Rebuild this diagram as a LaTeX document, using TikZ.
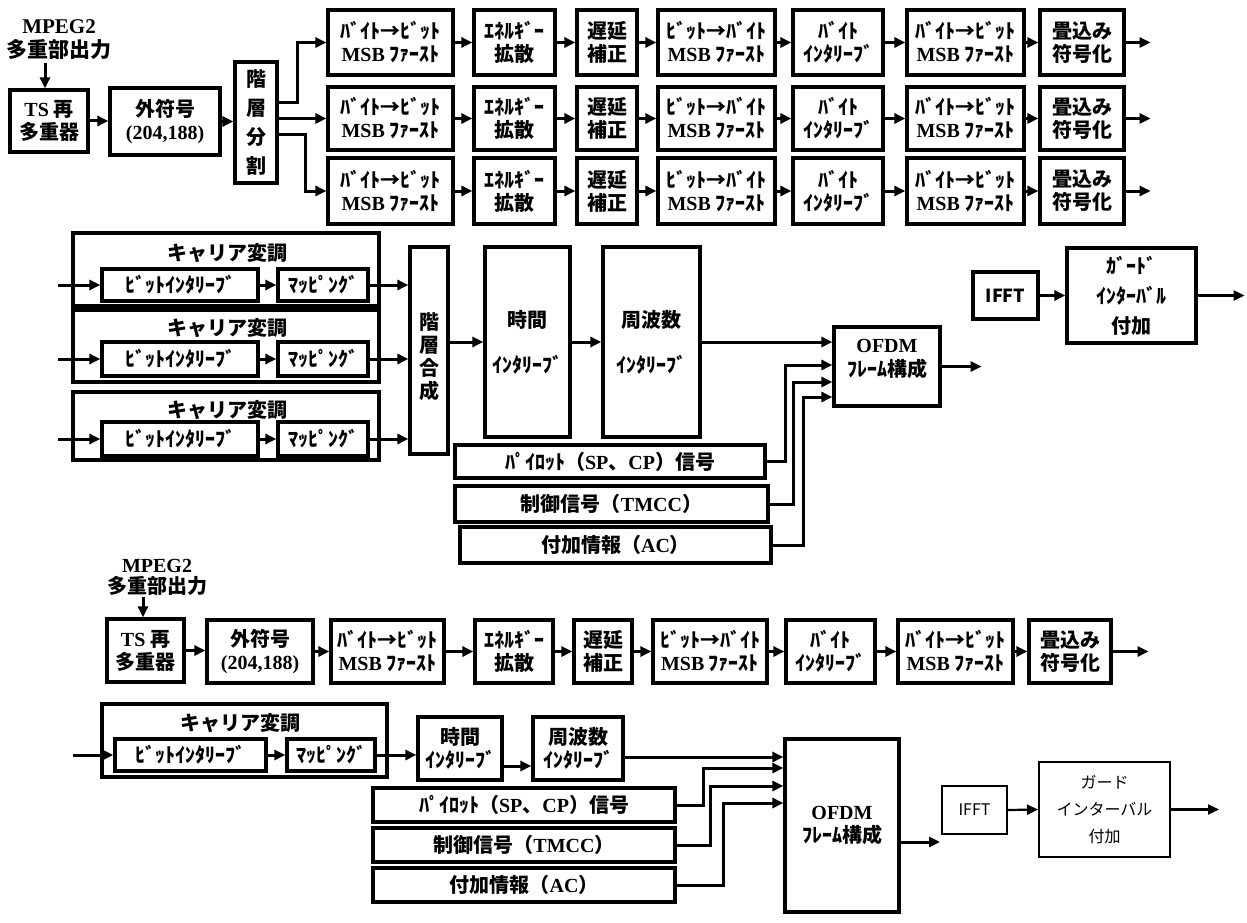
\documentclass[tikz,border=0pt]{standalone}
\usepackage{fontspec}
\usetikzlibrary{arrows.meta}
\newfontfamily\jp{Noto Sans CJK JP}
\newfontfamily\lat{Liberation Serif}
\tikzset{
  box/.style={draw, line width=3.2pt, inner sep=0pt, align=center, font=\jp\bfseries\fontsize{20}{23}\selectfont},
  thinbox/.style={draw, line width=2pt, inner sep=0pt, align=center, font=\jp\fontsize{16}{27}\selectfont},
  txt/.style={inner sep=0pt, align=center, font=\jp\bfseries\fontsize{20}{24}\selectfont},
  arr/.style={line width=3pt, -{Triangle[length=11pt,width=10pt]}},
}
\newcommand\bx[7][]{\node[box,minimum width={#5-#3},minimum height={#6-#4},#1] (#2) at ({(#3+#5)/2},{(#4+#6)/2}) {#7};}
\begin{document}
\begin{tikzpicture}[x=1pt,y=-1pt]
\useasboundingbox (0,0) rectangle (1247,923);
% ================= top section =================
\node[txt,font=\jp\bfseries\fontsize{21}{24}\selectfont] (mpeg) at (59,40) {{\lat MPEG2}\\多重部出力};
\coordinate (ma) at (45,63);
\bx{ts}{10}{90}{88}{152}{{\lat TS} 再\\多重器}
\draw[arr] (ma) -- (ma |- ts.north);
\bx{fec}{110}{88}{220}{155}{外符号\\{\lat (204,188)}}
\bx[font=\jp\bfseries\fontsize{20}{29}\selectfont]{div}{235}{62}{277}{183}{階\\層\\分\\割}
\draw[arr] (ts.east) -- (ts.east -| fec.west);
\draw[arr] (fec.east) -- (fec.east -| div.west);
\foreach \r/\ya/\yb in {1/10/75,2/87/150,3/158/224}{
  \bx{a\r}{328}{\ya}{453}{\yb}{ﾊﾞｲﾄ→ﾋﾞｯﾄ\\{\lat MSB} ﾌｧｰｽﾄ}
  \bx{b\r}{474}{\ya}{555}{\yb}{ｴﾈﾙｷﾞｰ\\拡散}
  \bx{c\r}{577}{\ya}{637}{\yb}{遅延\\補正}
  \bx{d\r}{658}{\ya}{775}{\yb}{ﾋﾞｯﾄ→ﾊﾞｲﾄ\\{\lat MSB} ﾌｧｰｽﾄ}
  \bx{e\r}{793}{\ya}{883}{\yb}{ﾊﾞｲﾄ\\ｲﾝﾀﾘｰﾌﾞ}
  \bx{f\r}{907}{\ya}{1024}{\yb}{ﾊﾞｲﾄ→ﾋﾞｯﾄ\\{\lat MSB} ﾌｧｰｽﾄ}
  \bx{g\r}{1040}{\ya}{1124}{\yb}{畳込み\\符号化}
  \coordinate (o\r) at ([xshift=25pt]g\r.east);
  \draw[arr] (a\r.east) -- (b\r.west);
  \draw[arr] (b\r.east) -- (c\r.west);
  \draw[arr] (c\r.east) -- (d\r.west);
  \draw[arr] (d\r.east) -- (e\r.west);
  \draw[arr] (e\r.east) -- (f\r.west);
  \draw[arr] (f\r.east) -- (g\r.west);
  \draw[arr] (g\r.east) -- (o\r);
}
\draw[arr] (div.east |- 0,103) -- (297,103) |- (a1.west);
\draw[arr] (div.east |- a2.west) -- (a2.west);
\draw[arr] (div.east |- 0,135) -- (305,135) |- (a3.west);
% ================= middle section =================
\foreach \r/\ya/\yb/\ty/\ia/\ib in {1/233/306/253/269/301, 2/310/382/328/342/376, 3/392/460/410/422/456}{
  \node[draw,line width=3.2pt,inner sep=0pt,minimum width=306,minimum height={\yb-\ya}] (cm\r) at (226,{(\ya+\yb)/2}) {};
  \node[txt] (cmt\r) at (227,\ty) {キャリア変調};
  \bx{bit\r}{102}{\ia}{258}{\ib}{ﾋﾞｯﾄｲﾝﾀﾘｰﾌﾞ}
  \bx{map\r}{278}{\ia}{368}{\ib}{ﾏｯﾋﾟﾝｸﾞ}
  \coordinate (in\r) at ([xshift=-42pt]bit\r.west);
  \draw[arr] (in\r) -- (bit\r.west);
  \draw[arr] (bit\r.east) -- (map\r.west);
}
\bx[font=\jp\bfseries\fontsize{20}{23}\selectfont]{comb}{410}{247}{448}{454}{\\[6pt]階\\層\\合\\成}
\foreach \r in {1,2,3}{\draw[arr] (map\r.east) -- (map\r.east -| comb.west);}
\bx{time}{485}{247}{570}{437}{時間\\[22pt]ｲﾝﾀﾘｰﾌﾞ}
\bx{fre}{603}{247}{700}{437}{周波数\\[22pt]ｲﾝﾀﾘｰﾌﾞ}
\bx{ofdm}{834}{327}{940}{406}{}
\node[txt] (ofdmt) at ([yshift=8pt]ofdm.center) {{\lat OFDM}\\ﾌﾚｰﾑ構成};
\bx{pil}{455}{445}{765}{478}{ﾊﾟｲﾛｯﾄ（{\lat SP}、{\lat CP}）信号}
\bx{tmcc}{455}{486}{768}{522}{制御信号（{\lat TMCC}）}
\bx{ac}{460}{527}{771}{563}{付加情報（{\lat AC}）}
\bx[font=\jp\bfseries\fontsize{18}{22}\selectfont]{ifft}{973}{272}{1038}{319}{IFFT}
\bx[font=\jp\bfseries\fontsize{20}{30}\selectfont]{guard}{1067}{248}{1196}{343}{ｶﾞｰﾄﾞ\\ｲﾝﾀｰﾊﾞﾙ\\付加}
\draw[arr] (comb.east |- time.west) -- (time.west);
\draw[arr] (time.east) -- (fre.west);
\draw[arr] (fre.east) -- (fre.east -| ofdm.west);
\draw[arr] (pil.east) -- (785,461.5) |- (ofdm.west |- 0,365);
\draw[arr] (tmcc.east) -- (793,504) |- (ofdm.west |- 0,382);
\draw[arr] (ac.east) -- (803,545) |- (ofdm.west |- 0,397);
\coordinate (oo) at ([xshift=40pt]ofdm.east);
\draw[arr] (ofdm.east) -- (oo);
\draw[arr] (ifft.east) -- (ifft.east -| guard.west);
\coordinate (og) at ([xshift=47pt]guard.east);
\draw[arr] (guard.east) -- (og);
% ================= bottom section =================
\node[txt,font=\jp\bfseries\fontsize{20}{21}\selectfont] (mpeg2) at (157,577) {{\lat MPEG2}\\多重部出力};
\coordinate (mb) at (143,597);
\bx{ts2}{107}{619}{184}{682}{{\lat TS} 再\\多重器}
\draw[arr] (mb) -- (mb |- ts2.north);
\bx{fec2}{207}{620}{313}{683}{外符号\\{\lat (204,188)}}
\bx{a4}{331}{620}{444}{683}{ﾊﾞｲﾄ→ﾋﾞｯﾄ\\{\lat MSB} ﾌｧｰｽﾄ}
\bx{b4}{475}{620}{553}{683}{ｴﾈﾙｷﾞｰ\\拡散}
\bx{c4}{574}{620}{632}{683}{遅延\\補正}
\bx{d4}{653}{620}{767}{683}{ﾋﾞｯﾄ→ﾊﾞｲﾄ\\{\lat MSB} ﾌｧｰｽﾄ}
\bx{e4}{786}{620}{875}{683}{ﾊﾞｲﾄ\\ｲﾝﾀﾘｰﾌﾞ}
\bx{f4}{898}{620}{1013}{683}{ﾊﾞｲﾄ→ﾋﾞｯﾄ\\{\lat MSB} ﾌｧｰｽﾄ}
\bx{g4}{1029}{620}{1111}{683}{畳込み\\符号化}
\coordinate (o4) at ([xshift=36pt]g4.east);
\draw[arr] (ts2.east) -- (ts2.east -| fec2.west);
\draw[arr] (fec2.east) -- (a4.west);
\draw[arr] (a4.east) -- (b4.west);
\draw[arr] (b4.east) -- (c4.west);
\draw[arr] (c4.east) -- (d4.west);
\draw[arr] (d4.east) -- (e4.west);
\draw[arr] (e4.east) -- (f4.west);
\draw[arr] (f4.east) -- (g4.west);
\draw[arr] (g4.east) -- (o4);
\node[draw,line width=3.2pt,inner sep=0pt,minimum width=285,minimum height=73] (cm4) at (244.5,740.5) {};
\node[txt] (cmt4) at (240,723) {キャリア変調};
\bx{bit4}{115}{739}{266}{771}{ﾋﾞｯﾄｲﾝﾀﾘｰﾌﾞ}
\bx{map4}{287}{739}{375}{771}{ﾏｯﾋﾟﾝｸﾞ}
\coordinate (in4) at ([xshift=-40pt]bit4.west);
\draw[arr] (in4) -- (bit4.west);
\draw[arr] (bit4.east) -- (map4.west);
\bx{time2}{418}{717}{502}{780}{時間\\ｲﾝﾀﾘｰﾌﾞ}
\bx{fre2}{533}{717}{623}{780}{周波数\\ｲﾝﾀﾘｰﾌﾞ}
\draw[arr] (map4.east) -- (map4.east -| time2.west);
\draw[arr] (time2.east |- 0,766) -- (fre2.west |- 0,766);
\bx{ofdm2}{785}{739}{899}{912}{{\lat OFDM}\\ﾌﾚｰﾑ構成}
\bx{pil2}{373}{788}{675}{822}{ﾊﾟｲﾛｯﾄ（{\lat SP}、{\lat CP}）信号}
\bx{tmcc2}{373}{828}{675}{862}{制御信号（{\lat TMCC}）}
\bx{ac2}{373}{868}{675}{902}{付加情報（{\lat AC}）}
\draw[arr] (fre2.east |- 0,757) -- (ofdm2.west |- 0,757);
\draw[arr] (pil2.east) -- (703,805) |- (ofdm2.west |- 0,768);
\draw[arr] (tmcc2.east) -- (710,845) |- (ofdm2.west |- 0,786);
\draw[arr] (ac2.east) -- (723,885) |- (ofdm2.west |- 0,803);
\node[thinbox,minimum width=65,minimum height=48] (ifft2) at (974.5,810) {IFFT};
\node[thinbox,minimum width=131,minimum height=95] (guard2) at (1104.5,809.5) {ガード\\インターバル\\付加};
\coordinate (oo2) at (940,842);
\draw[arr] (ofdm2.east |- oo2) -- (oo2);
\draw[arr,line width=2.2pt] (ifft2.east) -- (guard2.west);
\coordinate (og2) at ([xshift=48pt]guard2.east);
\draw[arr,line width=2.2pt] (guard2.east) -- (og2);
\end{tikzpicture}
\end{document}
